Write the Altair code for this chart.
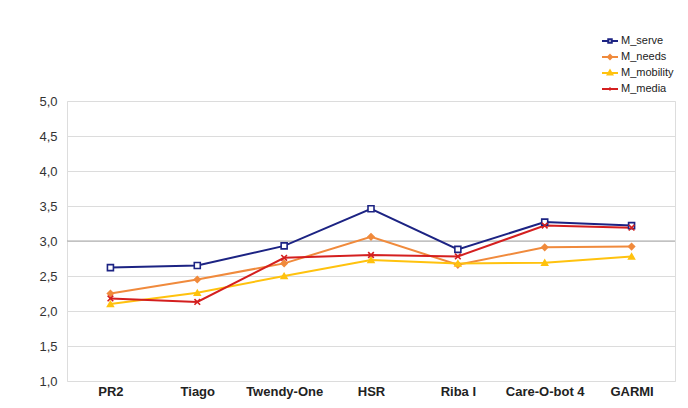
import altair as alt
import pandas as pd

categories = ["PR2", "Tiago", "Twendy-One", "HSR", "Riba I", "Care-O-bot 4", "GARMI"]
series_names = ["M_serve", "M_needs", "M_mobility", "M_media"]
m_serve = [2.62, 2.65, 2.93, 3.46, 2.88, 3.27, 3.22]
m_needs = [2.25, 2.45, 2.68, 3.06, 2.66, 2.91, 2.92]
m_mobility = [2.10, 2.26, 2.50, 2.73, 2.68, 2.69, 2.78]
m_media = [2.18, 2.13, 2.76, 2.80, 2.78, 3.22, 3.19]
y_ticks = [1.0, 1.5, 2.0, 2.5, 3.0, 3.5, 4.0, 4.5, 5.0]
ref_line = [3.0]

stroke_colors = ["#1c2383", "#f08a3c", "#ffc20e", "#d41f1f"]
fill_colors = ["#ffffff", "#f08a3c", "#ffc20e", "#d41f1f"]
marker_shapes = ["square", "diamond", "triangle-up", "M-1,-1L1,1M1,-1L-1,1"]
marker_sizes = [36, 32, 48, 14]
legend_shapes = [
    "M-1,0H-0.22M0.22,0H1M-0.22,-0.22H0.22V0.22H-0.22Z",
    "M-1,0H1M0,-0.25L0.25,0L0,0.25L-0.25,0Z",
    "M-1,0H1M0,-0.3L0.28,0.18H-0.28Z",
    "M-1,0H1M-0.12,-0.12L0.12,0.12M0.12,-0.12L-0.12,0.12",
]

rows = []
for name, vals in zip(series_names, [m_serve, m_needs, m_mobility, m_media]):
    for i, (c, v) in enumerate(zip(categories, vals)):
        rows.append({"robot": c, "idx": i, "series": name, "value": v})
df = pd.DataFrame(rows)

font = "Liberation Sans"
y_scale = alt.Scale(domain=[1, 5], nice=False, zero=False)

x_enc = alt.X(
    "robot:N", sort=categories, title=None,
    axis=alt.Axis(labelAngle=0, labelFontWeight="bold", labelFontSize=13, labelFont=font,
                  labelColor="#222222", labelPadding=4, ticks=False, domain=False),
)
y_enc = alt.Y(
    "value:Q", title=None, scale=y_scale,
    axis=alt.Axis(values=y_ticks, grid=True, gridColor="#dcdcdc", domain=False, ticks=False,
                  labelOverlap=False,
                  labelExpr="replace(format(datum.value, '.1f'), '.', ',')",
                  labelFontSize=13, labelFont=font, labelColor="#333333", labelPadding=10),
)

lines = alt.Chart(df).mark_line(strokeWidth=2).encode(
    x=x_enc, y=y_enc,
    stroke=alt.Stroke("series:N", scale=alt.Scale(domain=series_names, range=stroke_colors), legend=None),
    order=alt.Order("idx:Q"),
)

points = alt.Chart(df).mark_point(filled=False, strokeWidth=1.6, opacity=1).encode(
    x=x_enc, y=y_enc,
    stroke=alt.Stroke("series:N", scale=alt.Scale(domain=series_names, range=stroke_colors), legend=None),
    fill=alt.Fill("series:N", scale=alt.Scale(domain=series_names, range=fill_colors), legend=None),
    shape=alt.Shape("series:N", scale=alt.Scale(domain=series_names, range=marker_shapes), legend=None),
    size=alt.Size("series:N", scale=alt.Scale(domain=series_names, range=marker_sizes), legend=None),
)

legend = alt.Legend(
    title=None, orient="none", legendX=534, legendY=-69,
    labelFont=font, labelFontSize=11, labelColor="#222222", labelOffset=2,
    symbolSize=256, symbolStrokeWidth=2, rowPadding=1,
)

legend_layer = alt.Chart(df).transform_filter("false").mark_point(filled=False, strokeWidth=2, opacity=1).encode(
    x=x_enc, y=y_enc,
    stroke=alt.Stroke("series:N", scale=alt.Scale(domain=series_names, range=stroke_colors), legend=legend),
    fill=alt.Fill("series:N", scale=alt.Scale(domain=series_names, range=fill_colors), legend=legend),
    shape=alt.Shape("series:N", scale=alt.Scale(domain=series_names, range=legend_shapes), legend=legend),
)

rule = alt.Chart(pd.DataFrame({"value": ref_line})).mark_rule(color="#a8a8a8", strokeWidth=1).encode(
    y=y_enc
)

chart = alt.layer(rule, lines, points, legend_layer).resolve_scale(
    stroke="independent", fill="independent", shape="independent"
).properties(
    width=608, height=280,
    autosize=alt.AutoSizeParams(type="none"),
    padding={"left": 59, "top": 93, "right": 5, "bottom": 19},
).configure_view(stroke="#e3e3e3").configure(background="white")

chart.save("out.html", embed_options={"renderer": "svg", "actions": False})
